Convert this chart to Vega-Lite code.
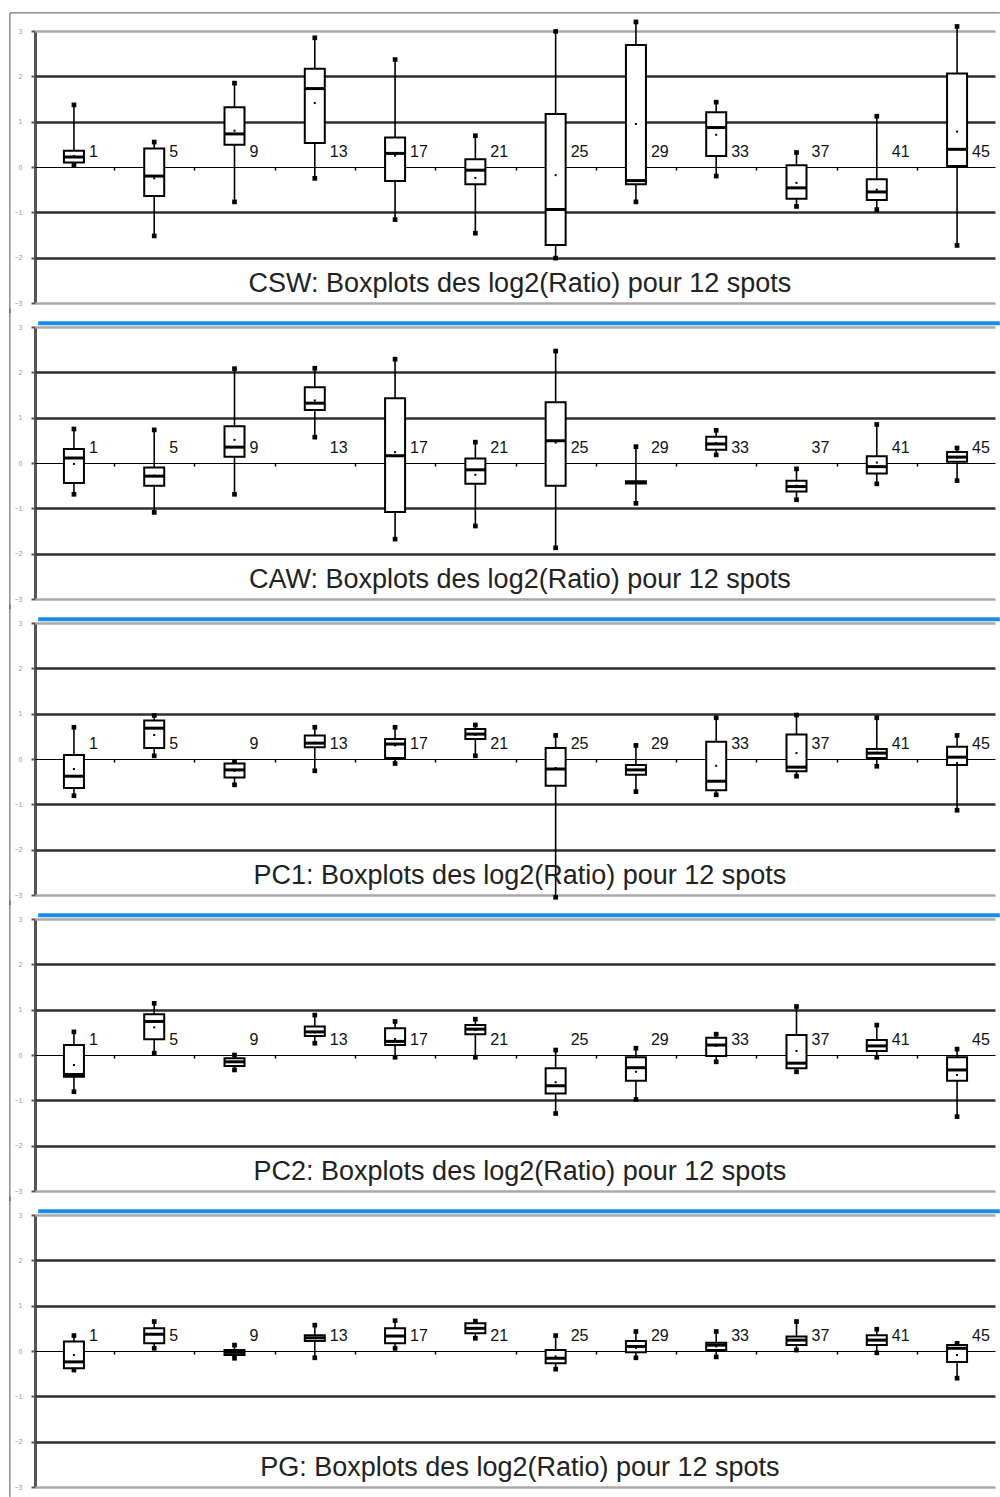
{
  "$schema": "https://vega.github.io/schema/vega-lite/v6.json",
  "padding": {"top": 12, "left": 5, "right": 0, "bottom": 0},
  "background": "white",
  "bounds": "flush",
  "datasets": {
    "titles": [
      {"p": "CSW", "t": "CSW: Boxplots des log2(Ratio) pour 12 spots"},
      {"p": "CAW", "t": "CAW: Boxplots des log2(Ratio) pour 12 spots"},
      {"p": "PC1", "t": "PC1: Boxplots des log2(Ratio) pour 12 spots"},
      {"p": "PC2", "t": "PC2: Boxplots des log2(Ratio) pour 12 spots"},
      {"p": "PG", "t": "PG: Boxplots des log2(Ratio) pour 12 spots"}
    ],
    "boxes": [
      {"p":"CSW","s":1,"lo":0.05,"q1":0.1,"md":0.22,"q3":0.36,"hi":1.37,"mn":0.24},
      {"p":"CSW","s":5,"lo":-1.52,"q1":-0.64,"md":-0.2,"q3":0.41,"hi":0.55,"mn":-0.25},
      {"p":"CSW","s":9,"lo":-0.77,"q1":0.49,"md":0.73,"q3":1.32,"hi":1.85,"mn":0.8},
      {"p":"CSW","s":13,"lo":-0.25,"q1":0.53,"md":1.73,"q3":2.17,"hi":2.85,"mn":1.41},
      {"p":"CSW","s":17,"lo":-1.16,"q1":-0.31,"md":0.3,"q3":0.65,"hi":2.37,"mn":0.25},
      {"p":"CSW","s":21,"lo":-1.46,"q1":-0.38,"md":-0.07,"q3":0.17,"hi":0.69,"mn":-0.24},
      {"p":"CSW","s":25,"lo":-2.01,"q1":-1.72,"md":-0.94,"q3":1.17,"hi":2.99,"mn":-0.18},
      {"p":"CSW","s":29,"lo":-0.77,"q1":-0.38,"md":-0.3,"q3":2.69,"hi":3.2,"mn":0.95},
      {"p":"CSW","s":33,"lo":-0.2,"q1":0.24,"md":0.87,"q3":1.21,"hi":1.43,"mn":0.71},
      {"p":"CSW","s":37,"lo":-0.87,"q1":-0.7,"md":-0.46,"q3":0.04,"hi":0.32,"mn":-0.35},
      {"p":"CSW","s":41,"lo":-0.94,"q1":-0.73,"md":-0.55,"q3":-0.27,"hi":1.12,"mn":-0.5},
      {"p":"CSW","s":45,"lo":-1.73,"q1":0.02,"md":0.39,"q3":2.06,"hi":3.1,"mn":0.78},
      {"p":"CAW","s":1,"lo":-0.69,"q1":-0.44,"md":0.11,"q3":0.31,"hi":0.75,"mn":-0.02},
      {"p":"CAW","s":5,"lo":-1.09,"q1":-0.5,"md":-0.29,"q3":-0.1,"hi":0.73,"mn":-0.28},
      {"p":"CAW","s":9,"lo":-0.69,"q1":0.14,"md":0.35,"q3":0.81,"hi":2.08,"mn":0.51},
      {"p":"CAW","s":13,"lo":0.57,"q1":1.17,"md":1.32,"q3":1.67,"hi":2.09,"mn":1.38},
      {"p":"CAW","s":17,"lo":-1.68,"q1":-1.08,"md":0.16,"q3":1.43,"hi":2.29,"mn":0.24},
      {"p":"CAW","s":21,"lo":-1.39,"q1":-0.46,"md":-0.15,"q3":0.1,"hi":0.46,"mn":-0.26},
      {"p":"CAW","s":25,"lo":-1.87,"q1":-0.5,"md":0.49,"q3":1.34,"hi":2.47,"mn":0.45},
      {"p":"CAW","s":29,"lo":-0.89,"q1":-0.45,"md":-0.43,"q3":-0.4,"hi":0.36,"mn":-0.43},
      {"p":"CAW","s":33,"lo":0.18,"q1":0.29,"md":0.42,"q3":0.58,"hi":0.72,"mn":0.44},
      {"p":"CAW","s":37,"lo":-0.81,"q1":-0.63,"md":-0.52,"q3":-0.39,"hi":-0.13,"mn":-0.5},
      {"p":"CAW","s":41,"lo":-0.46,"q1":-0.23,"md":-0.08,"q3":0.15,"hi":0.85,"mn":0.01},
      {"p":"CAW","s":45,"lo":-0.39,"q1":0.03,"md":0.13,"q3":0.24,"hi":0.33,"mn":0.12},
      {"p":"PC1","s":1,"lo":-0.81,"q1":-0.64,"md":-0.38,"q3":0.09,"hi":0.7,"mn":-0.22},
      {"p":"PC1","s":5,"lo":0.07,"q1":0.24,"md":0.68,"q3":0.85,"hi":0.96,"mn":0.53},
      {"p":"PC1","s":9,"lo":-0.57,"q1":-0.41,"md":-0.24,"q3":-0.1,"hi":-0.05,"mn":-0.26},
      {"p":"PC1","s":13,"lo":-0.26,"q1":0.26,"md":0.35,"q3":0.52,"hi":0.7,"mn":0.36},
      {"p":"PC1","s":17,"lo":-0.1,"q1":0.02,"md":0.33,"q3":0.44,"hi":0.7,"mn":0.3},
      {"p":"PC1","s":21,"lo":0.07,"q1":0.44,"md":0.55,"q3":0.66,"hi":0.75,"mn":0.53},
      {"p":"PC1","s":25,"lo":-3.05,"q1":-0.59,"md":-0.22,"q3":0.24,"hi":0.52,"mn":-0.2},
      {"p":"PC1","s":29,"lo":-0.72,"q1":-0.35,"md":-0.24,"q3":-0.13,"hi":0.3,"mn":-0.24},
      {"p":"PC1","s":33,"lo":-0.79,"q1":-0.69,"md":-0.49,"q3":0.38,"hi":0.91,"mn":-0.15},
      {"p":"PC1","s":37,"lo":-0.38,"q1":-0.27,"md":-0.18,"q3":0.54,"hi":0.97,"mn":0.13},
      {"p":"PC1","s":41,"lo":-0.16,"q1":0.02,"md":0.13,"q3":0.22,"hi":0.91,"mn":0.14},
      {"p":"PC1","s":45,"lo":-1.13,"q1":-0.13,"md":0.04,"q3":0.27,"hi":0.52,"mn":-0.09},
      {"p":"PC2","s":1,"lo":-0.81,"q1":-0.48,"md":-0.43,"q3":0.22,"hi":0.51,"mn":-0.22},
      {"p":"PC2","s":5,"lo":0.04,"q1":0.35,"md":0.74,"q3":0.9,"hi":1.14,"mn":0.61},
      {"p":"PC2","s":9,"lo":-0.33,"q1":-0.24,"md":-0.15,"q3":-0.07,"hi":0.0,"mn":-0.15},
      {"p":"PC2","s":13,"lo":0.26,"q1":0.42,"md":0.51,"q3":0.63,"hi":0.88,"mn":0.5},
      {"p":"PC2","s":17,"lo":-0.05,"q1":0.22,"md":0.3,"q3":0.59,"hi":0.74,"mn":0.35},
      {"p":"PC2","s":21,"lo":-0.05,"q1":0.46,"md":0.57,"q3":0.66,"hi":0.79,"mn":0.55},
      {"p":"PC2","s":25,"lo":-1.29,"q1":-0.85,"md":-0.68,"q3":-0.29,"hi":0.11,"mn":-0.6},
      {"p":"PC2","s":29,"lo":-0.98,"q1":-0.57,"md":-0.28,"q3":-0.05,"hi":0.15,"mn":-0.37},
      {"p":"PC2","s":33,"lo":-0.15,"q1":-0.02,"md":0.22,"q3":0.38,"hi":0.46,"mn":0.2},
      {"p":"PC2","s":37,"lo":-0.37,"q1":-0.29,"md":-0.18,"q3":0.44,"hi":1.07,"mn":0.09},
      {"p":"PC2","s":41,"lo":-0.05,"q1":0.09,"md":0.2,"q3":0.33,"hi":0.66,"mn":0.2},
      {"p":"PC2","s":45,"lo":-1.36,"q1":-0.57,"md":-0.33,"q3":-0.05,"hi":0.13,"mn":-0.44},
      {"p":"PG","s":1,"lo":-0.42,"q1":-0.38,"md":-0.24,"q3":0.21,"hi":0.34,"mn":-0.09},
      {"p":"PG","s":5,"lo":0.06,"q1":0.17,"md":0.37,"q3":0.5,"hi":0.65,"mn":0.37},
      {"p":"PG","s":9,"lo":-0.16,"q1":-0.09,"md":-0.03,"q3":0.02,"hi":0.13,"mn":-0.03},
      {"p":"PG","s":13,"lo":-0.15,"q1":0.22,"md":0.29,"q3":0.35,"hi":0.57,"mn":0.29},
      {"p":"PG","s":17,"lo":0.06,"q1":0.17,"md":0.33,"q3":0.5,"hi":0.67,"mn":0.33},
      {"p":"PG","s":21,"lo":0.28,"q1":0.39,"md":0.5,"q3":0.61,"hi":0.66,"mn":0.5},
      {"p":"PG","s":25,"lo":-0.4,"q1":-0.27,"md":-0.16,"q3":0.02,"hi":0.34,"mn":-0.12},
      {"p":"PG","s":29,"lo":-0.15,"q1":-0.03,"md":0.1,"q3":0.22,"hi":0.43,"mn":0.07},
      {"p":"PG","s":33,"lo":-0.13,"q1":0.02,"md":0.13,"q3":0.18,"hi":0.43,"mn":0.1},
      {"p":"PG","s":37,"lo":0.02,"q1":0.13,"md":0.24,"q3":0.32,"hi":0.65,"mn":0.24},
      {"p":"PG","s":41,"lo":-0.04,"q1":0.13,"md":0.24,"q3":0.35,"hi":0.48,"mn":0.24},
      {"p":"PG","s":45,"lo":-0.6,"q1":-0.24,"md":0.06,"q3":0.13,"hi":0.17,"mn":-0.09}
    ]
  },
  "data": {"name": "boxes"},
  "transform": [
    {"lookup": "p", "from": {"data": {"name": "titles"}, "key": "p", "fields": ["t"]}}
  ],
  "facet": {
    "row": {"field": "p", "type": "nominal", "sort": ["CSW", "CAW", "PC1", "PC2", "PG"], "header": null}
  },
  "spacing": 24,
  "resolve": {"axis": {"x": "independent"}},
  "spec": {
    "width": 960,
    "height": 272,
    "layer": [
      {
        "mark": {"type": "rule", "color": "black", "strokeWidth": 1.6},
        "encoding": {
          "x": {
            "field": "s", "type": "quantitative", "title": null,
            "scale": {"domain": [-0.94, 46.89], "nice": false, "zero": false, "padding": 0},
            "axis": {
              "orient": "bottom", "offset": -136,
              "values": [3, 7, 11, 15, 19, 23, 27, 31, 35, 39, 43],
              "labels": false, "title": null, "grid": false, "domain": false,
              "tickSize": 3, "tickColor": "#000", "tickWidth": 1.5
            }
          },
          "y": {
            "field": "lo", "type": "quantitative", "title": null,
            "scale": {"domain": [-3, 3], "nice": false, "zero": false},
            "axis": {
              "values": [-3, -2, -1, 0, 1, 2, 3], "title": null,
              "labelFontSize": 7, "labelColor": "#9a9a9a", "labelPadding": 9,
              "tickSize": 4, "tickColor": "#555", "tickWidth": 2,
              "minExtent": 30, "maxExtent": 30,
              "domainColor": "#555", "domainWidth": 3,
              "grid": true,
              "gridColor": {"condition": [{"test": "datum.value == 0", "value": "#000"}, {"test": "abs(datum.value) == 3", "value": "#a8a8a8"}], "value": "#2e2e2e"},
              "gridWidth": {"condition": {"test": "datum.value == 0", "value": 1.2}, "value": 2.6}
            }
          },
          "y2": {"field": "hi"}
        }
      },
      {
        "mark": {"type": "bar", "width": 20, "fill": "white", "stroke": "black", "strokeWidth": 2},
        "encoding": {
          "x": {"field": "s", "type": "quantitative", "title": null},
          "y": {"field": "q1", "type": "quantitative", "title": null},
          "y2": {"field": "q3"}
        }
      },
      {
        "mark": {"type": "tick", "orient": "horizontal", "size": 20, "thickness": 3, "color": "black", "opacity": 1},
        "encoding": {
          "x": {"field": "s", "type": "quantitative", "title": null},
          "y": {"field": "md", "type": "quantitative", "title": null}
        }
      },
      {
        "mark": {"type": "point", "shape": "square", "filled": true, "size": 22, "color": "black", "opacity": 1},
        "encoding": {
          "x": {"field": "s", "type": "quantitative", "title": null},
          "y": {"field": "lo", "type": "quantitative", "title": null}
        }
      },
      {
        "mark": {"type": "point", "shape": "square", "filled": true, "size": 22, "color": "black", "opacity": 1},
        "encoding": {
          "x": {"field": "s", "type": "quantitative", "title": null},
          "y": {"field": "hi", "type": "quantitative", "title": null}
        }
      },
      {
        "mark": {"type": "point", "shape": "square", "filled": true, "size": 4, "color": "black", "opacity": 1},
        "encoding": {
          "x": {"field": "s", "type": "quantitative", "title": null},
          "y": {"field": "mn", "type": "quantitative", "title": null}
        }
      },
      {
        "mark": {"type": "text", "align": "left", "baseline": "middle", "dx": 15, "fontSize": 16, "font": "Liberation Sans", "color": "#111"},
        "encoding": {
          "x": {"field": "s", "type": "quantitative", "title": null},
          "y": {"datum": 0.34, "type": "quantitative", "title": null},
          "text": {"field": "s", "type": "quantitative"}
        }
      },
      {
        "transform": [{"filter": "datum.s == 1"}],
        "mark": {"type": "text", "align": "center", "baseline": "middle", "fontSize": 27, "font": "Liberation Sans", "color": "#222"},
        "encoding": {
          "x": {"datum": 23.22, "type": "quantitative", "title": null},
          "y": {"datum": -2.57, "type": "quantitative", "title": null},
          "text": {"field": "t", "type": "nominal"}
        }
      },
      {
        "transform": [{"filter": "datum.s == 1 && datum.p != 'CSW'"}],
        "mark": {"type": "rule", "color": "#1a8de8", "strokeWidth": 4},
        "encoding": {
          "x": {"datum": -0.78, "type": "quantitative", "title": null},
          "x2": {"datum": 47.13},
          "y": {"datum": 3.08, "type": "quantitative", "title": null}
        }
      },
      {
        "transform": [{"filter": "datum.s == 1 && datum.p == 'CSW'"}],
        "mark": {"type": "rule", "color": "#555", "strokeWidth": 1},
        "encoding": {
          "x": {"datum": -2.19, "type": "quantitative", "title": null},
          "x2": {"datum": 47.13},
          "y": {"datum": 3.4, "type": "quantitative", "title": null}
        }
      },
      {
        "transform": [{"filter": "datum.s == 1"}],
        "mark": {"type": "rule", "color": "#555", "strokeWidth": 1},
        "encoding": {
          "x": {"datum": -2.19, "type": "quantitative", "title": null},
          "y": {"datum": 3.4, "type": "quantitative", "title": null},
          "y2": {"datum": -3.22}
        }
      }
    ]
  },
  "config": {"view": {"stroke": null}, "font": "Liberation Sans"}
}
